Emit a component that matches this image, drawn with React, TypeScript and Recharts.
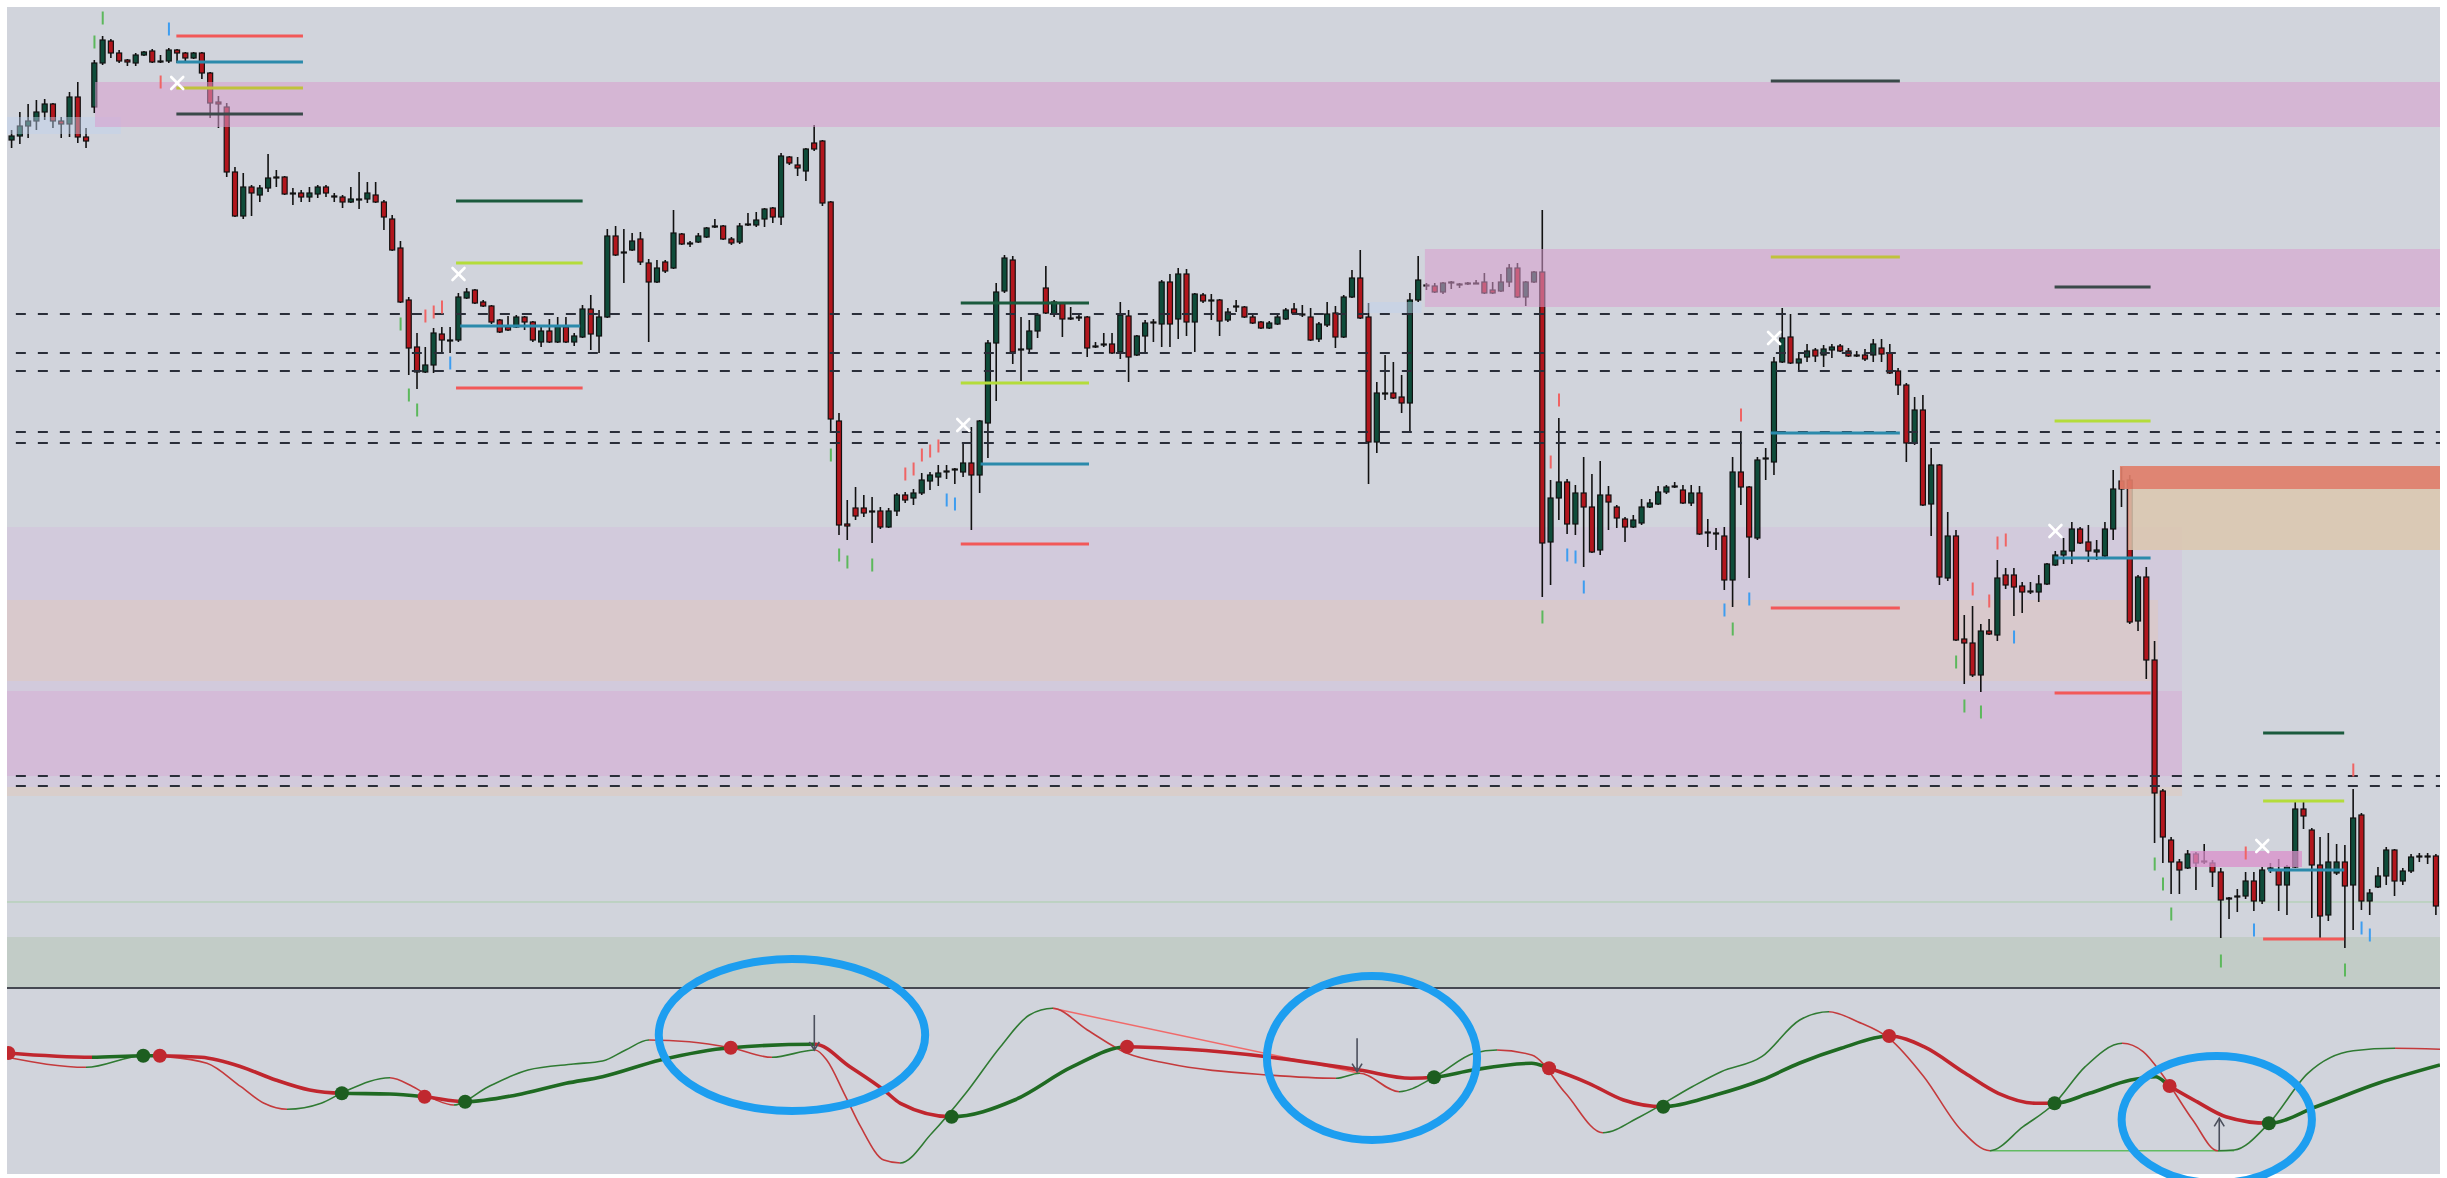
import React from 'react';
import { ComposedChart, Bar, Line, Scatter, XAxis, YAxis, ReferenceArea, ReferenceLine } from 'recharts';

// ---------- candle data (price units, candle index 1..294) ----------
const opens = [
  860,864,874,879,888,896,879,876,903,863, 893,937,959,947,940,937,945,949,939,939,
  950,947,942,947,927,898,893,828,784,813, 805,812,823,823,807,807,803,806,813,804,
  803,798,801,801,805,798,781,752,700,653, 628,635,666,660,660,702,710,698,694,680,
  673,673,683,678,658,669,658,673,658,663, 691,664,683,764,748,750,761,737,718,738,
  732,766,757,758,763,774,774,761,758,776, 775,781,792,783,843,835,829,857,859,798,
  579,476,492,492,488,489,473,489,505,502, 507,519,523,528,530,528,537,525,577,657,
  709,740,651,651,669,712,686,697,682,682, 683,653,655,656,648,684,645,664,677,676,
  718,681,726,678,705,699,700,680,693,693, 683,678,672,676,681,691,685,683,661,675,
  687,663,703,722,683,558,607,607,603,597, 700,714,714,708,718,716,716,717,718,710,
  709,718,732,703,718,728,458,502,518,476, 507,493,450,505,493,481,473,477,493,496,
  508,513,510,497,507,467,467,464,420,528, 513,462,541,538,638,663,637,643,650,645,
  650,654,649,645,645,645,652,647,629,615, 557,590,496,535,422,464,361,357,325,369,
  365,425,425,414,408,408,416,435,445,449, 471,458,448,444,471,519,520,379,423,340,
  209,160,138,132,146,138,137,128,102,103, 104,119,99,131,130,115,133,191,170,135,
  85,127,138,115,185,99,113,124,150,119, 129,143,143,144,
];
const highs = [
  870,888,896,900,901,897,883,908,918,872, 940,964,961,950,941,947,949,951,945,952,
  951,948,948,948,928,904,897,833,827,815, 815,846,830,824,812,810,813,815,815,807,
  805,813,828,818,818,800,785,759,703,667, 653,672,673,673,707,712,711,700,695,681,
  684,685,684,679,673,681,683,683,667,695, 705,690,771,774,771,767,768,741,740,740,
  790,767,759,767,773,781,775,763,777,787, 788,792,793,847,844,843,852,875,860,799,
  587,500,513,505,503,493,492,507,508,511, 527,528,535,535,532,557,573,580,660,717,
  745,744,683,680,687,734,700,698,693,687, 684,658,667,667,698,690,665,680,681,720,
  726,732,731,707,707,706,701,692,700,694, 685,679,679,687,692,697,695,692,678,698,
  694,705,730,750,697,618,645,638,625,707, 744,717,717,718,719,717,718,720,727,718,
  726,736,737,719,729,790,520,582,521,515, 543,526,539,514,495,483,485,501,501,514,
  515,518,515,515,514,481,472,473,543,568, 514,543,552,643,692,686,647,656,652,655,
  656,656,652,649,651,661,661,656,632,617, 603,605,552,536,488,470,385,394,376,381,
  440,432,432,418,418,425,437,449,462,478, 473,475,460,478,530,533,525,425,433,359,
  211,163,141,150,148,156,140,132,103,111, 128,128,133,137,141,135,199,200,172,163,
  167,156,155,211,187,111,133,153,151,132, 146,147,147,146,
];
const lows = [
  852,856,862,870,880,872,862,863,857,852, 887,935,942,937,934,934,944,937,937,937,
  937,937,941,921,882,872,823,783,781,784, 798,808,813,805,795,798,798,802,803,798,
  792,797,791,797,797,770,749,697,625,611, 627,627,647,647,658,701,696,693,676,667,
  669,672,670,658,653,657,657,657,654,662, 650,647,682,744,717,749,735,658,717,727,
  731,755,753,757,762,772,760,755,756,774, 773,773,777,775,835,824,819,849,794,567,
  465,460,480,483,457,471,472,484,497,495, 505,510,514,521,516,523,470,507,542,599,
  707,636,619,647,662,686,683,663,680,679, 643,652,653,646,641,618,644,647,658,653,
  653,661,664,648,697,680,664,678,688,682, 676,671,671,675,680,685,683,659,658,673,
  652,662,702,681,516,547,600,601,587,567, 698,710,707,706,711,712,715,716,706,706,
  708,713,702,694,717,403,415,480,466,465, 433,447,445,470,472,458,472,475,492,495,
  506,512,496,494,465,453,450,410,393,495, 422,460,520,525,637,636,629,638,638,633,
  642,648,643,643,639,638,638,626,605,538, 555,494,464,415,419,359,316,323,308,365,
  359,411,384,387,406,398,415,434,436,436, 456,438,440,443,460,493,376,369,321,157,
  137,106,106,131,110,136,113,62,81,88, 101,89,96,127,89,85,132,171,82,62,
  79,125,52,70,90,85,112,115,104,115, 127,138,136,85,
];
const closes = [
  864,874,879,888,896,879,876,903,863,859, 937,960,947,939,938,945,948,938,938,950,
  947,942,947,927,897,896,828,784,813,807, 812,822,822,806,806,803,807,813,807,803,
  798,801,800,807,798,783,750,698,652,628, 635,667,660,659,703,708,697,694,678,668,
  670,683,678,660,669,658,673,658,664,691, 666,683,764,745,747,759,738,718,732,729,
  767,756,756,764,772,773,761,757,774,775, 780,791,783,844,837,832,851,851,797,581,
  475,474,484,487,489,473,489,505,500,507, 520,525,527,529,531,537,525,579,657,708,
  742,648,650,669,685,687,698,681,681,683, 652,654,656,647,685,643,664,677,678,718,
  676,726,678,706,699,700,679,688,694,683, 677,672,677,683,690,687,686,660,676,686,
  663,703,722,682,558,607,606,602,597,700, 720,715,708,717,717,716,717,716,707,707,
  718,732,703,718,728,457,502,518,476,507, 493,448,505,498,482,473,480,493,497,508,
  513,514,497,507,466,468,466,420,528,513, 463,540,542,638,662,637,641,649,644,651,
  653,649,644,644,641,656,646,627,615,557, 590,495,535,423,464,360,357,325,369,366,
  422,415,413,408,409,416,436,445,449,471, 457,449,450,471,511,511,378,423,340,207,
  163,138,130,146,137,139,128,100,101,104, 119,99,130,132,115,133,191,184,135,84,
  138,138,114,182,99,107,124,150,119,129, 143,144,144,94,
];

// ---------- fractal marks [candle index, price] ----------
const greenMarks = [[12,982],[11,958],[48,676],[49,605],[50,590],[100,545],[101,445],[102,438],[105,435],[186,383],[209,371],[236,338],[237,294],[239,288],[260,136],[261,116],[262,86],[268,39],[283,30]];
const blueMarks = [[20,971],[54,637],[114,500],[115,496],[189,445],[190,443],[191,413],[208,390],[211,401],[243,363],[272,70],[285,72],[286,65]];
const redMarks = [[19,918],[51,684],[52,688],[53,693],[109,526],[110,531],[111,545],[112,549],[113,554],[187,538],[188,600],[210,585],[238,411],[240,399],[241,457],[242,460],[271,147],[284,230]];
const crossMarks = [[21,917],[55,726],[116,575],[214,662],[248,469],[273,154]];

// ---------- level segments [x1, x2, price, kind] ----------
const levels: [number, number, number, string][] = [
  [20.9,36.2,964,'red'],[20.9,36.2,938,'teal'],[20.9,36.2,912,'olive'],[20.9,36.2,886,'slate'],
  [54.7,70.0,799,'dkgreen'],[54.7,70.0,737,'lime'],[55.2,69.7,674,'teal'],[54.7,70.0,612,'red'],
  [115.7,131.2,697,'dkgreen'],[115.7,131.2,617,'lime'],[118.1,131.2,536,'teal'],[115.7,131.2,456,'red'],
  [213.6,229.2,919,'slate'],[213.6,229.2,743,'olive'],[213.6,229.2,567,'teal'],[213.6,229.2,392,'red'],
  [247.9,259.5,713,'slate'],[247.9,259.5,579,'lime'],[247.9,259.5,442,'teal'],[247.9,259.5,307,'red'],
  [273.1,282.9,267,'dkgreen'],[273.1,282.9,199,'lime'],[273.7,282.9,130,'teal'],[273.1,282.9,61,'red'],
];
const dashedPrices = [686, 647, 629, 568, 557, 224, 214];

// ---------- zones [x1, x2, pLow, pHigh, kind] ----------
const backZones: [number, number, number, number, string][] = [
  [0.43, 263.3, 204, 473, 'lavender'],
  [0.43, 260.4, 319, 400, 'peach'],
  [0.43, 263.3, 224, 309, 'pinkLow'],
  [0.43, 263.3, 204, 213, 'beige'],
];
const frontZones: [number, number, number, number, string][] = [
  [0.43, 14.2, 866, 883, 'blue'],
  [164.7, 171.4, 687, 698, 'blue'],
  [11.07, 294.48, 873, 918, 'pink'],
  [171.8, 294.48, 693, 751, 'pink'],
  [255.8, 294.48, 511, 534, 'salmon'],
  [256.8, 294.48, 450, 511, 'sand'],
  [264.3, 277.8, 133, 149, 'pinkStrong'],
];
const greenBand = [12, 63];
const thinGreenLevel = 98;

// ---------- oscillator panel ----------
const thickX = [0.43,10.7,16.9,18.9,23.9,28.7,32.9,37.0,40.9,46.7,50.9,55.8,62.0,68.0,72.4,79.4,87.9,98.1,102.3,106.4,108.4,114.6,122.2,129.2,135.8,143.1,152.7,163.9,170.1,172.9,177.6,184.7,186.8,191.6,195.8,200.6,206.9,212.5,217.1,222.1,227.9,232.1,237.1,241.1,245.6,247.9,252.1,257.1,260.1,261.8,265.1,268.6,273.8,279.5,287.0,294.48];
const thickV = [121,116.7,118.3,118.3,116.7,107.3,94,84,80.7,80,77.3,72.3,79,90.7,97.3,114,126.3,129.7,107.3,84,70.7,57.3,74,107.3,127.3,124.7,117.3,104,95.7,96.7,104,110.7,105.7,90.7,74,67.3,79,94,111,125.7,138,127.3,100.7,80.7,70.7,70.7,80.7,94,97.3,88,72.3,57.3,50.7,67.3,90.7,109];
const thickBreaks = [10.7,18.9,40.9,50.9,55.8,98.1,114.6,135.8,172.9,186.8,200.6,227.9,247.9,261.8,273.8];
const thinX = [0.43,10.0,16.9,19.7,24.6,28.7,31.5,34.3,38.4,41.2,46.7,49.5,52.3,54.4,58.6,63.4,68.9,72.4,75.2,78.0,82.9,87.9,92.9,98.1,99.5,101.6,103.6,106.4,108.4,112.2,116.3,120.5,124.0,126.8,131.0,135.8,140.6,152.8,161.1,163.9,168.7,172.9,177.7,180.5,184.7,188.8,193.3,197.8,204.1,207.6,212.5,217.1,220.6,224.1,227.9,232.1,236.6,240.1,244.1,247.9,251.6,256.1,258.6,261.1,264.6,267.6,269.6,273.8,278.5,284.0,289.0,294.48];
const thinV = [116.7,106.7,118.3,117.3,110.7,87.3,70.7,64.7,70.7,82.3,96.3,87.3,74,69,87.3,104,110,113,124,134,132.3,126.3,116.7,124,114,80.7,47.3,14,11,40.7,80.7,127.3,159,165.7,144,120.7,110.7,99,95.7,100.7,82.3,96.7,120.7,124,119,80.7,41.3,57.3,87.3,102.3,117.3,154,162.3,152.3,135.7,97.3,44,23.3,47.3,70.7,107.3,130.7,122.3,97.3,54,23.3,24,50.7,100.7,123.3,125.7,124.7];
const greenDots = [[16.9,118.3],[40.9,80.7],[55.8,72.3],[114.6,57.3],[172.9,96.7],[200.6,67.3],[247.9,70.7],[273.8,50.7]];
const redDots = [[0.6,121],[18.9,118.3],[50.9,77.3],[87.9,126.3],[135.8,127.3],[186.8,105.7],[227.9,138],[261.8,88]];
const divergenceRed = [[126.8,165.7],[163.9,100.7]];
const divergenceGreen = [[240.1,23.3],[269.6,23.3]];
const arrows: [number, number, number, string][] = [[98.0,124,159,'down'],[163.6,102.3,135.7,'down'],[267.8,24,55.7,'up']];
const ellipses: [number, number, number, number][] = [[79.2,111.4,63,215],[152.7,178.1,34,198],[256,279,-9,118]];

// ---------- styles ----------
const X0 = 0.43, X1 = 294.48;
const W = 2433;
const BG = '#d1d4dc';
const C_UP = '#0f4c3a';
const C_DN = '#b2161d';
const LEVEL_COLORS: Record<string, string> = {
  red: '#f25858', teal: '#2b8aab', olive: '#c0c23c', slate: '#3a4949', dkgreen: '#1b5a3d', lime: '#b4dc3a',
};
const ZONE_STYLE: Record<string, [string, number]> = {
  lavender: ['#d2bedb', 0.45],
  peach: ['#e2c7b8', 0.45],
  pinkLow: ['#d8a9d2', 0.45],
  beige: ['#ddd0bf', 0.6],
  blue: ['#bfd3ee', 0.45],
  pink: ['#d89dcd', 0.55],
  salmon: ['#e07e69', 0.92],
  sand: ['#dcc7ae', 0.85],
  pinkStrong: ['#d98fcb', 0.75],
};
const T_GREEN = '#2f7a32';
const T_RED = '#c43a3c';
const K_GREEN = '#1f6a22';
const K_RED = '#c0262e';

const candles = opens.map((o, k) => ({
  x: k + 1, o, h: highs[k], l: lows[k], c: closes[k], range: [lows[k], highs[k]],
}));
const toPts = (arr: number[][]) => arr.map(([x, y]) => ({ x, y }));
const thickData = thickX.map((x, k) => ({ x, v: thickV[k] }));
const thinData = thinX.map((x, k) => ({ x, v: thinV[k] }));
const frac = (x: number) => (x - X0) / (X1 - X0);

const thinStops: { o: number; c: string }[] = [];
for (let k = 0; k < thinData.length - 1; k++) {
  const col = thinData[k + 1].v >= thinData[k].v ? T_GREEN : T_RED;
  thinStops.push({ o: frac(thinData[k].x), c: col });
  thinStops.push({ o: frac(thinData[k + 1].x), c: col });
}
const thickStops: { o: number; c: string }[] = [];
{
  const bounds = [X0, ...thickBreaks, X1];
  for (let k = 0; k < bounds.length - 1; k++) {
    const col = k % 2 === 0 ? K_RED : K_GREEN;
    thickStops.push({ o: frac(bounds[k]), c: col });
    thickStops.push({ o: frac(bounds[k + 1]), c: col });
  }
}

const CandleShape = (props: any) => {
  const { x, y, width, height, payload } = props;
  if (x == null || y == null || !payload) return null;
  const { o, h, l, c } = payload;
  const ppu = height / Math.max(1e-6, h - l);
  const cx = x + width / 2;
  const top = y + (h - Math.max(o, c)) * ppu;
  const bh = Math.max(1, Math.abs(o - c) * ppu);
  return (
    <g>
      <line x1={cx} x2={cx} y1={y} y2={y + height} stroke="#111" strokeWidth={1.6} />
      <rect x={x + 0.5} y={top} width={width - 1} height={bh} fill={c >= o ? C_UP : C_DN} stroke="#111" strokeWidth={1.2} />
    </g>
  );
};

const tickShape = (color: string) => (p: any) =>
  p.cx == null ? <g /> : <line x1={p.cx} x2={p.cx} y1={p.cy - 6.5} y2={p.cy + 6.5} stroke={color} strokeWidth={2} />;
const crossShape = (p: any) =>
  p.cx == null ? <g /> : (
    <g stroke="#ffffff" strokeWidth={2.6} strokeLinecap="round">
      <line x1={p.cx - 6} y1={p.cy - 6} x2={p.cx + 6} y2={p.cy + 6} />
      <line x1={p.cx - 6} y1={p.cy + 6} x2={p.cx + 6} y2={p.cy - 6} />
    </g>
  );
const dotShape = (color: string) => (p: any) =>
  p.cx == null ? <g /> : <circle cx={p.cx} cy={p.cy} r={7} fill={color} />;

const ellipseShape = (p: any) => (
  <ellipse cx={p.x + p.width / 2} cy={p.y + p.height / 2} rx={Math.abs(p.width) / 2} ry={Math.abs(p.height) / 2}
    fill="none" stroke="#1d9ef0" strokeWidth={8} />
);
const arrowShape = (dir: string) => (p: any) => {
  const cx = p.x + p.width / 2;
  const top = p.y, bot = p.y + p.height;
  const head = dir === 'down'
    ? `M${cx - 5},${bot - 8} L${cx},${bot} L${cx + 5},${bot - 8}`
    : `M${cx - 5},${top + 8} L${cx},${top} L${cx + 5},${top + 8}`;
  return (
    <g stroke="#4b4f5c" strokeWidth={1.6} fill="none">
      <line x1={cx} x2={cx} y1={top} y2={bot} />
      <path d={head} />
    </g>
  );
};

export default function App() {
  return (
    <div style={{ position: 'absolute', left: 0, top: 0, width: 2447, height: 1178, background: '#ffffff', overflow: 'hidden' }}>
      <div style={{ position: 'absolute', left: 7, top: 7, width: W, height: 1167, background: BG }} />
      <div style={{ position: 'absolute', left: 7, top: 7 }}>
        <ComposedChart width={W} height={981} data={candles} margin={{ top: 0, right: 0, bottom: 0, left: 0 }}>
          <XAxis dataKey="x" type="number" domain={[X0, X1]} allowDataOverflow hide />
          <YAxis type="number" domain={[12, 993]} allowDataOverflow hide />
          <ReferenceArea x1={X0} x2={X1} y1={greenBand[0]} y2={greenBand[1]} fill="#c2ccc7" fillOpacity={1} stroke="none" ifOverflow="visible" zIndex={50} />
          {backZones.map((z, k) => (
            <ReferenceArea key={'b' + k} x1={z[0]} x2={z[1]} y1={z[2]} y2={z[3]} fill={ZONE_STYLE[z[4]][0]}
              fillOpacity={ZONE_STYLE[z[4]][1]} stroke="none" ifOverflow="visible" zIndex={60} />
          ))}
          <ReferenceLine segment={[{ x: X0, y: thinGreenLevel }, { x: X1, y: thinGreenLevel }]} stroke="#a9cfa9" strokeWidth={1} ifOverflow="visible" zIndex={70} />
          <Bar dataKey="range" barSize={6} shape={CandleShape} isAnimationActive={false} />
          {frontZones.map((z, k) => (
            <ReferenceArea key={'z' + k} x1={z[0]} x2={z[1]} y1={z[2]} y2={z[3]} fill={ZONE_STYLE[z[4]][0]}
              fillOpacity={ZONE_STYLE[z[4]][1]} stroke="none" ifOverflow="visible" zIndex={350} />
          ))}
          {dashedPrices.map((p, k) => (
            <ReferenceLine key={'d' + k} segment={[{ x: 1.5, y: p }, { x: X1, y: p }]} stroke="#2a2e39"
              strokeWidth={2} strokeDasharray="10 12" ifOverflow="visible" zIndex={400} />
          ))}
          {levels.map((lv, k) => (
            <ReferenceLine key={'l' + k} segment={[{ x: lv[0], y: lv[2] }, { x: lv[1], y: lv[2] }]}
              stroke={LEVEL_COLORS[lv[3]]} strokeWidth={3.2} ifOverflow="visible" zIndex={400} />
          ))}
          <Scatter data={toPts(greenMarks)} dataKey="y" shape={tickShape('#5cb85c')} isAnimationActive={false} />
          <Scatter data={toPts(blueMarks)} dataKey="y" shape={tickShape('#3d9df0')} isAnimationActive={false} />
          <Scatter data={toPts(redMarks)} dataKey="y" shape={tickShape('#f06464')} isAnimationActive={false} />
          <Scatter data={toPts(crossMarks)} dataKey="y" shape={crossShape} isAnimationActive={false} />
        </ComposedChart>
      </div>
      <div style={{ position: 'absolute', left: 7, top: 987, width: W, height: 2, background: '#454852' }} />
      <div style={{ position: 'absolute', left: 7, top: 950 }}>
        <ComposedChart width={W} height={228} margin={{ top: 39, right: 0, bottom: 4, left: 0 }}>
          <defs>
            <linearGradient id="gThin" gradientUnits="userSpaceOnUse" x1={0} y1={0} x2={W} y2={0}>
              {thinStops.map((s, k) => <stop key={k} offset={s.o} stopColor={s.c} />)}
            </linearGradient>
            <linearGradient id="gThick" gradientUnits="userSpaceOnUse" x1={0} y1={0} x2={W} y2={0}>
              {thickStops.map((s, k) => <stop key={k} offset={s.o} stopColor={s.c} />)}
            </linearGradient>
          </defs>
          <XAxis dataKey="x" type="number" domain={[X0, X1]} allowDataOverflow hide />
          <YAxis type="number" domain={[0, 185]} allowDataOverflow hide />
          <ReferenceLine segment={[{ x: divergenceRed[0][0], y: divergenceRed[0][1] }, { x: divergenceRed[1][0], y: divergenceRed[1][1] }]}
            stroke="#f06a6a" strokeWidth={1.5} ifOverflow="visible" />
          <ReferenceLine segment={[{ x: divergenceGreen[0][0], y: divergenceGreen[0][1] }, { x: divergenceGreen[1][0], y: divergenceGreen[1][1] }]}
            stroke="#62bb62" strokeWidth={1.6} ifOverflow="visible" />
          <Line data={thinData} dataKey="v" type="monotone" stroke="url(#gThin)" strokeWidth={1.6} dot={false} isAnimationActive={false} />
          <Line data={thickData} dataKey="v" type="monotone" stroke="url(#gThick)" strokeWidth={3.6} dot={false} isAnimationActive={false} />
          <Scatter data={toPts(greenDots)} dataKey="y" shape={dotShape('#1d5e20')} isAnimationActive={false} />
          <Scatter data={toPts(redDots)} dataKey="y" shape={dotShape('#c0282f')} isAnimationActive={false} />
          {arrows.map((a, k) => (
            <ReferenceArea key={'a' + k} x1={a[0] - 0.5} x2={a[0] + 0.5} y1={a[1]} y2={a[2]} shape={arrowShape(a[3])} ifOverflow="visible" zIndex={700} />
          ))}
          {ellipses.map((e, k) => (
            <ReferenceArea key={'e' + k} x1={e[0]} x2={e[1]} y1={e[2]} y2={e[3]} shape={ellipseShape} ifOverflow="visible" zIndex={800} />
          ))}
        </ComposedChart>
      </div>
    </div>
  );
}
